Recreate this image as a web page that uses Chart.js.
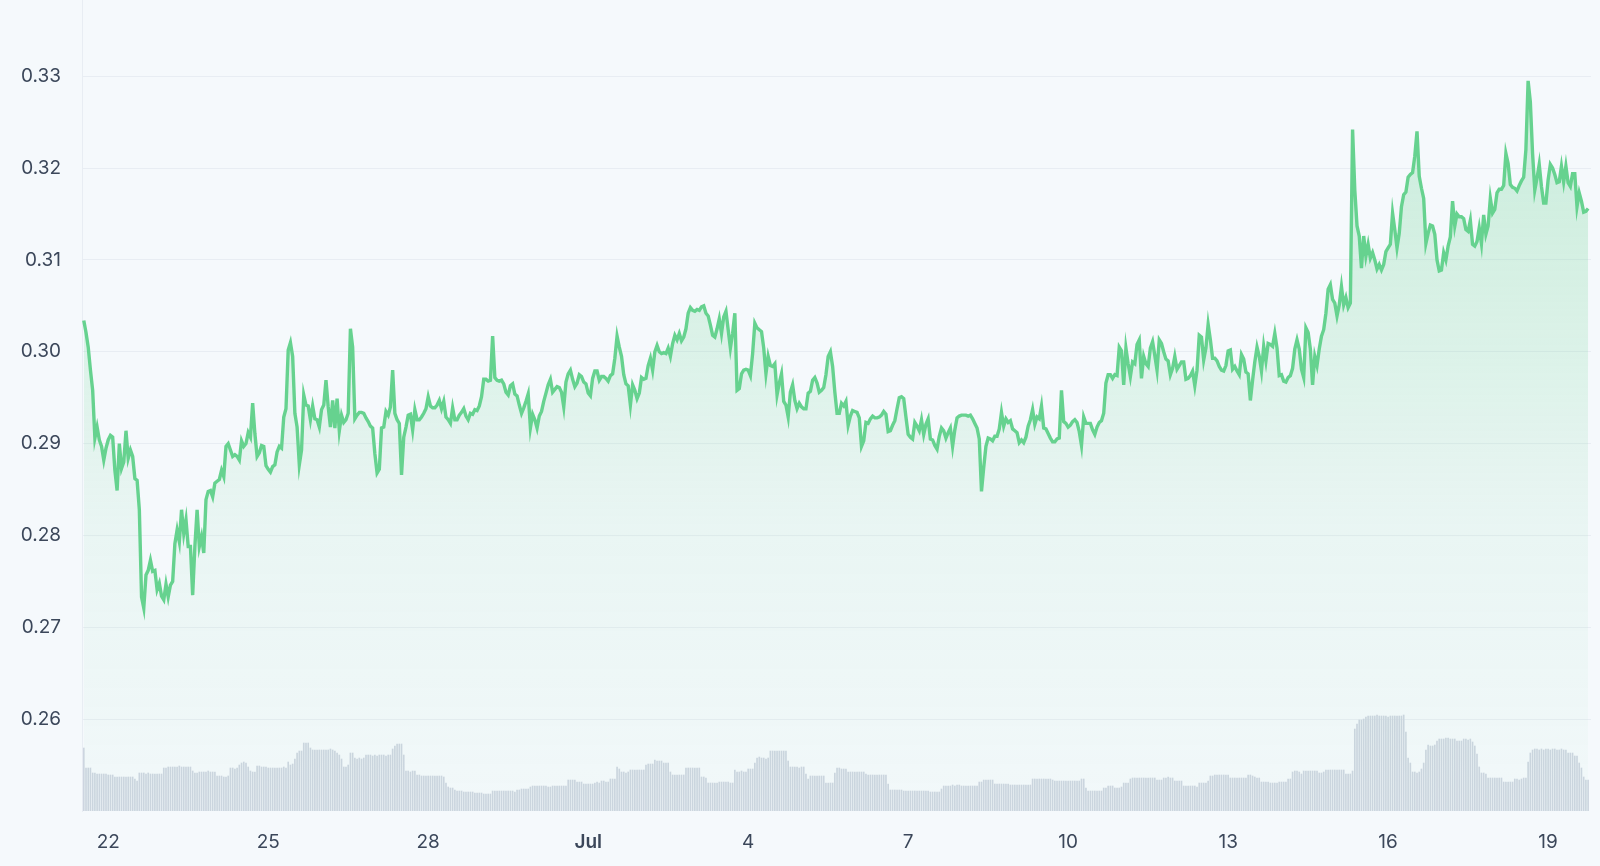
<!DOCTYPE html>
<html>
<head>
<meta charset="utf-8">
<title>Price chart</title>
<script src="https://cdn.jsdelivr.net/npm/chart.js@4.4.1/dist/chart.umd.min.js"></script>
<style>
  html, body { margin: 0; padding: 0; background: #f5f9fc; }
  #wrap { width: 1600px; height: 866px; position: relative; }
</style>
</head>
<body>
<div id="wrap"><canvas id="priceChart"></canvas></div>
<script>
// hourly samples, hour 0 = 22 Jun 00:00
const startHour = -11;

const price = [
  0.3034,0.3021,0.3005,0.2980,0.2958,0.2906,0.2918,0.2904,0.2897,0.2882,0.2895,
  0.2904,0.2909,0.2907,0.2871,0.2849,0.2900,0.2873,0.2880,0.2914,0.2884,0.2893,0.2886,0.2862,0.2860,0.2828,0.2733,0.2721,0.2757,0.2762,0.2773,0.2761,0.2762,0.2741,0.2748,
  0.2734,0.2730,0.2747,0.2733,0.2746,0.2750,0.2791,0.2806,0.2793,0.2828,0.2802,0.2817,0.2788,0.2788,0.2735,0.2788,0.2828,0.2788,0.2799,0.2781,0.2839,0.2848,0.2849,0.2842,
  0.2857,0.2859,0.2861,0.2871,0.2864,0.2897,0.2900,0.2893,0.2886,0.2888,0.2886,0.2882,0.2903,0.2897,0.2900,0.2912,0.2907,0.2944,0.2911,0.2886,0.2890,0.2898,0.2897,0.2876,
  0.2872,0.2869,0.2875,0.2877,0.2891,0.2897,0.2895,0.2929,0.2938,0.3002,0.3010,0.2995,0.2933,0.2918,0.2877,0.2893,0.2953,0.2942,0.2941,0.2926,0.2941,0.2927,0.2926,0.2918,
  0.2937,0.2942,0.2969,0.2940,0.2918,0.2947,0.2917,0.2949,0.2914,0.2931,0.2923,0.2926,0.2933,0.3025,0.3005,0.2927,0.2931,0.2934,0.2934,0.2933,0.2928,0.2924,0.2919,0.2917,
  0.2889,0.2868,0.2872,0.2917,0.2918,0.2935,0.2931,0.2940,0.2980,0.2933,0.2926,0.2922,0.2866,0.2907,0.2918,0.2931,0.2932,0.2915,0.2937,0.2926,0.2926,0.2929,0.2933,0.2938,
  0.2951,0.2941,0.2939,0.2939,0.2942,0.2947,0.2938,0.2946,0.2929,0.2926,0.2922,0.2939,0.2926,0.2926,0.2931,0.2934,0.2938,0.2930,0.2926,0.2933,0.2932,0.2937,0.2936,0.2941,
  0.2951,0.2970,0.2970,0.2968,0.2969,0.3017,0.2972,0.2969,0.2968,0.2969,0.2965,0.2956,0.2953,0.2963,0.2965,0.2954,0.2952,0.2942,0.2933,0.2939,0.2946,0.2954,0.2917,0.2932,
  0.2926,0.2917,0.2930,0.2935,0.2946,0.2955,0.2964,0.2970,0.2956,0.2959,0.2962,0.2961,0.2956,0.2940,0.2967,0.2976,0.2980,0.2970,0.2962,0.2966,0.2975,0.2973,0.2967,0.2965,
  0.2955,0.2952,0.2971,0.2979,0.2979,0.2969,0.2973,0.2973,0.2971,0.2968,0.2974,0.2976,0.2993,0.3017,0.3005,0.2995,0.2975,0.2965,0.2963,0.2942,0.2964,0.2958,0.2949,0.2955,
  0.2972,0.2970,0.2971,0.2985,0.2993,0.2980,0.3000,0.3007,0.3000,0.2998,0.2999,0.2998,0.3004,0.2995,0.3009,0.3018,0.3013,0.3020,0.3012,0.3016,0.3025,0.3042,0.3048,0.3045,
  0.3044,0.3046,0.3045,0.3049,0.3050,0.3042,0.3039,0.3029,0.3018,0.3016,0.3025,0.3036,0.3020,0.3038,0.3044,0.3024,0.3004,0.3020,0.3042,0.2958,0.2960,0.2976,0.2980,0.2981,
  0.2980,0.2974,0.2998,0.3031,0.3026,0.3024,0.3022,0.3004,0.2976,0.2995,0.2985,0.2984,0.2987,0.2953,0.2966,0.2976,0.2946,0.2942,0.2929,0.2956,0.2964,0.2947,0.2938,0.2944,
  0.2940,0.2938,0.2938,0.2955,0.2957,0.2969,0.2972,0.2966,0.2956,0.2958,0.2961,0.2975,0.2995,0.3000,0.2984,0.2956,0.2933,0.2933,0.2944,0.2941,0.2946,0.2920,0.2930,0.2936,
  0.2935,0.2934,0.2928,0.2897,0.2903,0.2923,0.2922,0.2927,0.2930,0.2928,0.2928,0.2929,0.2931,0.2935,0.2932,0.2913,0.2914,0.2920,0.2925,0.2938,0.2950,0.2951,0.2949,0.2929,
  0.2910,0.2907,0.2905,0.2923,0.2919,0.2914,0.2926,0.2910,0.2921,0.2927,0.2905,0.2904,0.2898,0.2894,0.2908,0.2917,0.2914,0.2906,0.2912,0.2917,0.2897,0.2915,0.2928,0.2930,
  0.2931,0.2931,0.2931,0.2930,0.2931,0.2927,0.2922,0.2917,0.2905,0.2848,0.2874,0.2897,0.2906,0.2905,0.2903,0.2908,0.2908,0.2916,0.2934,0.2919,0.2927,0.2923,0.2925,0.2916,
  0.2914,0.2912,0.2901,0.2904,0.2901,0.2907,0.2919,0.2926,0.2937,0.2921,0.2929,0.2927,0.2941,0.2917,0.2916,0.2911,0.2906,0.2902,0.2902,0.2905,0.2906,0.2958,0.2924,0.2922,
  0.2918,0.2920,0.2924,0.2926,0.2923,0.2913,0.2898,0.2929,0.2922,0.2922,0.2922,0.2915,0.2910,0.2918,0.2923,0.2925,0.2933,0.2966,0.2975,0.2975,0.2971,0.2975,0.2974,0.3005,
  0.3001,0.2964,0.3004,0.2987,0.2973,0.2989,0.2987,0.3008,0.3013,0.2971,0.2995,0.2987,0.2984,0.3004,0.3011,0.2996,0.2980,0.3013,0.3009,0.3000,0.2992,0.2990,0.2975,0.2982,
  0.2995,0.2981,0.2985,0.2989,0.2989,0.2970,0.2971,0.2974,0.2979,0.2963,0.2980,0.3018,0.3016,0.2991,0.3004,0.3030,0.3013,0.2993,0.2993,0.2990,0.2984,0.2980,0.2979,0.2985,
  0.3001,0.3002,0.2981,0.2984,0.2979,0.2975,0.2997,0.2992,0.2978,0.2976,0.2947,0.2969,0.2989,0.3005,0.2995,0.2979,0.3006,0.2990,0.3009,0.3008,0.3006,0.3020,0.3004,0.2974,
  0.2975,0.2968,0.2967,0.2972,0.2974,0.2982,0.3003,0.3013,0.3003,0.2981,0.2972,0.3026,0.3021,0.3003,0.2964,0.2995,0.2985,0.3003,0.3017,0.3024,0.3042,0.3068,0.3073,0.3057,
  0.3053,0.3039,0.3051,0.3071,0.3051,0.3059,0.3048,0.3053,0.3242,0.3176,0.3137,0.3126,0.3091,0.3126,0.3104,0.3117,0.3102,0.3108,0.3100,0.3090,0.3095,0.3089,0.3095,0.3109,
  0.3113,0.3117,0.3151,0.3133,0.3113,0.3129,0.3158,0.3171,0.3174,0.3190,0.3193,0.3195,0.3213,0.3240,0.3191,0.3178,0.3167,0.3118,0.3129,0.3138,0.3137,0.3128,0.3100,0.3088,
  0.3089,0.3108,0.3100,0.3115,0.3125,0.3164,0.3137,0.3150,0.3147,0.3147,0.3145,0.3133,0.3131,0.3143,0.3117,0.3115,0.3120,0.3135,0.3118,0.3149,0.3128,0.3137,0.3167,0.3151,
  0.3155,0.3173,0.3177,0.3177,0.3181,0.3216,0.3205,0.3182,0.3179,0.3178,0.3175,0.3181,0.3186,0.3190,0.3220,0.3295,0.3272,0.3216,0.3176,0.3189,0.3204,0.3180,0.3162,0.3162,
  0.3187,0.3204,0.3200,0.3193,0.3184,0.3185,0.3202,0.3185,0.3202,0.3184,0.3180,0.3194,0.3194,0.3158,0.3173,0.3164,0.3152,0.3153,0.3156
];

// volume, arbitrary units
const volume = [
  63,43,43,43,38,38,37,37,37,37,37,
  36,36,36,34,34,34,34,34,34,34,34,34,32,30,38,38,38,37,38,37,37,37,37,37,
  37,43,43,44,44,44,44,44,45,44,44,44,44,44,40,38,38,39,39,39,39,40,39,39,
  39,35,35,35,34,34,35,43,43,42,43,46,48,49,48,44,40,39,39,45,45,44,44,44,
  43,43,43,43,43,43,43,44,43,49,46,47,52,58,60,60,68,68,68,63,61,61,61,61,
  61,61,61,61,62,61,60,58,56,52,44,44,46,58,58,53,52,53,52,53,56,56,56,55,
  56,55,56,56,56,55,56,56,62,65,67,67,67,56,40,40,39,40,40,36,36,35,35,35,
  35,35,35,35,35,35,35,34,28,24,23,23,21,20,20,20,19,19,19,19,19,18,18,18,
  18,17,17,17,17,20,20,20,20,20,20,20,20,20,20,19,21,21,22,22,22,22,24,25,
  25,25,25,25,25,25,24,24,25,25,25,25,25,25,25,31,31,31,31,29,29,29,27,27,
  27,27,27,28,29,28,30,30,29,29,32,32,32,44,42,39,39,38,39,41,41,41,41,41,
  41,41,46,47,47,47,51,50,50,50,48,48,48,39,36,36,36,36,36,36,43,43,43,43,
  43,43,43,34,34,33,28,28,28,28,28,29,29,29,29,29,28,28,41,39,39,40,39,39,
  42,42,42,48,53,54,53,53,52,53,60,60,60,60,60,60,60,60,50,44,44,44,44,43,
  44,44,37,32,35,35,35,35,35,35,35,28,28,28,28,38,43,43,42,42,42,39,39,39,
  39,39,39,39,39,37,36,36,36,36,36,36,36,36,36,27,21,21,21,21,21,21,20,20,
  20,20,20,20,20,20,20,20,20,20,19,19,19,19,19,22,25,25,25,25,26,25,26,26,
  25,25,25,25,25,25,25,25,29,29,31,31,31,31,31,27,27,27,27,27,27,27,26,26,
  26,26,26,26,26,26,26,26,32,32,32,32,32,32,32,32,32,31,30,30,30,30,30,30,
  30,30,30,30,30,30,32,32,23,20,20,20,20,20,20,20,23,23,25,25,25,23,23,23,
  24,28,28,28,32,33,33,33,33,33,33,33,33,33,33,33,31,31,31,33,33,34,33,33,
  30,30,30,30,25,25,25,25,25,25,24,28,28,28,28,30,35,35,36,36,36,36,36,36,
  36,33,33,33,33,33,33,33,33,36,36,35,34,33,33,29,29,29,29,28,28,28,28,29,
  29,29,29,32,32,39,40,40,39,37,40,40,40,40,40,40,40,38,38,39,41,41,41,41,
  41,41,41,41,41,37,37,37,40,82,87,91,91,92,94,95,95,95,95,96,95,95,95,95,
  94,95,95,95,95,95,95,96,79,53,48,39,39,38,39,42,48,61,66,65,65,66,70,72,
  72,72,73,73,72,72,72,70,70,70,72,72,71,72,69,65,57,44,38,38,37,33,33,33,
  33,33,33,33,29,29,29,29,29,32,32,31,32,33,33,49,58,61,62,62,61,62,61,62,
  62,61,62,62,61,61,62,61,61,58,58,58,55,55,48,43,34,31,31
];

const xTickHours = [0, 72, 144, 216, 288, 360, 432, 504, 576, 648];
const xTickLabels = ['22', '25', '28', 'Jul', '4', '7', '10', '13', '16', '19'];
const yTicks = [0.26, 0.27, 0.28, 0.29, 0.30, 0.31, 0.32, 0.33];

const pricePoints = price.map((v, i) => ({ x: startHour + i, y: v }));
const volumePoints = volume.map((v, i) => ({ x: startHour + i, y: v }));

const fontFamily = 'Inter, "Noto Sans", sans-serif';
const labelColor = '#3b475a';

new Chart(document.getElementById('priceChart'), {
    data: {
        datasets: [
            {
                type: 'line',
                label: 'Price',
                data: pricePoints,
                yAxisID: 'y',
                borderColor: '#66d28f',
                borderWidth: 3.4,
                pointRadius: 0,
                tension: 0,
                fill: 'start',
                backgroundColor: ctx => {
                    const area = ctx.chart.chartArea;
                    if (!area) return 'rgba(102,210,143,0.12)';
                    const g = ctx.chart.ctx.createLinearGradient(0, area.top, 0, area.bottom);
                    g.addColorStop(0, 'rgba(102,210,143,0.34)');
                    g.addColorStop(0.35, 'rgba(102,210,143,0.21)');
                    g.addColorStop(0.65, 'rgba(102,210,143,0.08)');
                    g.addColorStop(1, 'rgba(102,210,143,0.02)');
                    return g;
                },
                order: 0
            },
            {
                type: 'bar',
                label: 'Volume',
                data: volumePoints,
                yAxisID: 'yv',
                backgroundColor: '#cdd5e0',
                barThickness: 1,
                grouped: false,
                order: 1
            }
        ]
    },
    options: {
        responsive: true, maintainAspectRatio: false,
        animation: false,
        layout: { padding: { top: 0, right: 9, bottom: 0, left: 0 } },
        scales: {
            x: {
                type: 'linear',
                offset: false,
                min: -11.8, max: 667.3,
                afterFit: s => { s.height = 55; s.paddingLeft = 0; s.paddingRight = 0; },
                afterBuildTicks: s => { s.ticks = xTickHours.map(v => ({ value: v })); },
                grid: { display: false, offset: false },
                border: { display: false },
                ticks: {
                    autoSkip: false, maxRotation: 0, padding: 12,
                    color: labelColor,
                    font: ctx => ({ family: fontFamily, size: 19, weight: ctx.index === 3 ? '600' : '400' }),
                    callback: (v, i) => xTickLabels[i]
                }
            },
            y: {
                min: 0.25, max: 0.3383,
                afterFit: s => { s.width = 82; s.paddingTop = 0; s.paddingBottom = 0; },
                afterBuildTicks: s => { s.ticks = yTicks.map(v => ({ value: v })); },
                grid: { color: '#e8edf3', drawTicks: false },
                border: { display: true, color: '#e8edf3' },
                ticks: {
                    padding: 21,
                    color: labelColor,
                    font: { family: fontFamily, size: 19 },
                    callback: v => v.toFixed(2)
                }
            },
            yv: {
                display: false,
                min: 0, max: 811
            }
        },
        plugins: {
            legend: { display: false },
            tooltip: { enabled: false }
        }
    }
});
</script>
</body>
</html>
